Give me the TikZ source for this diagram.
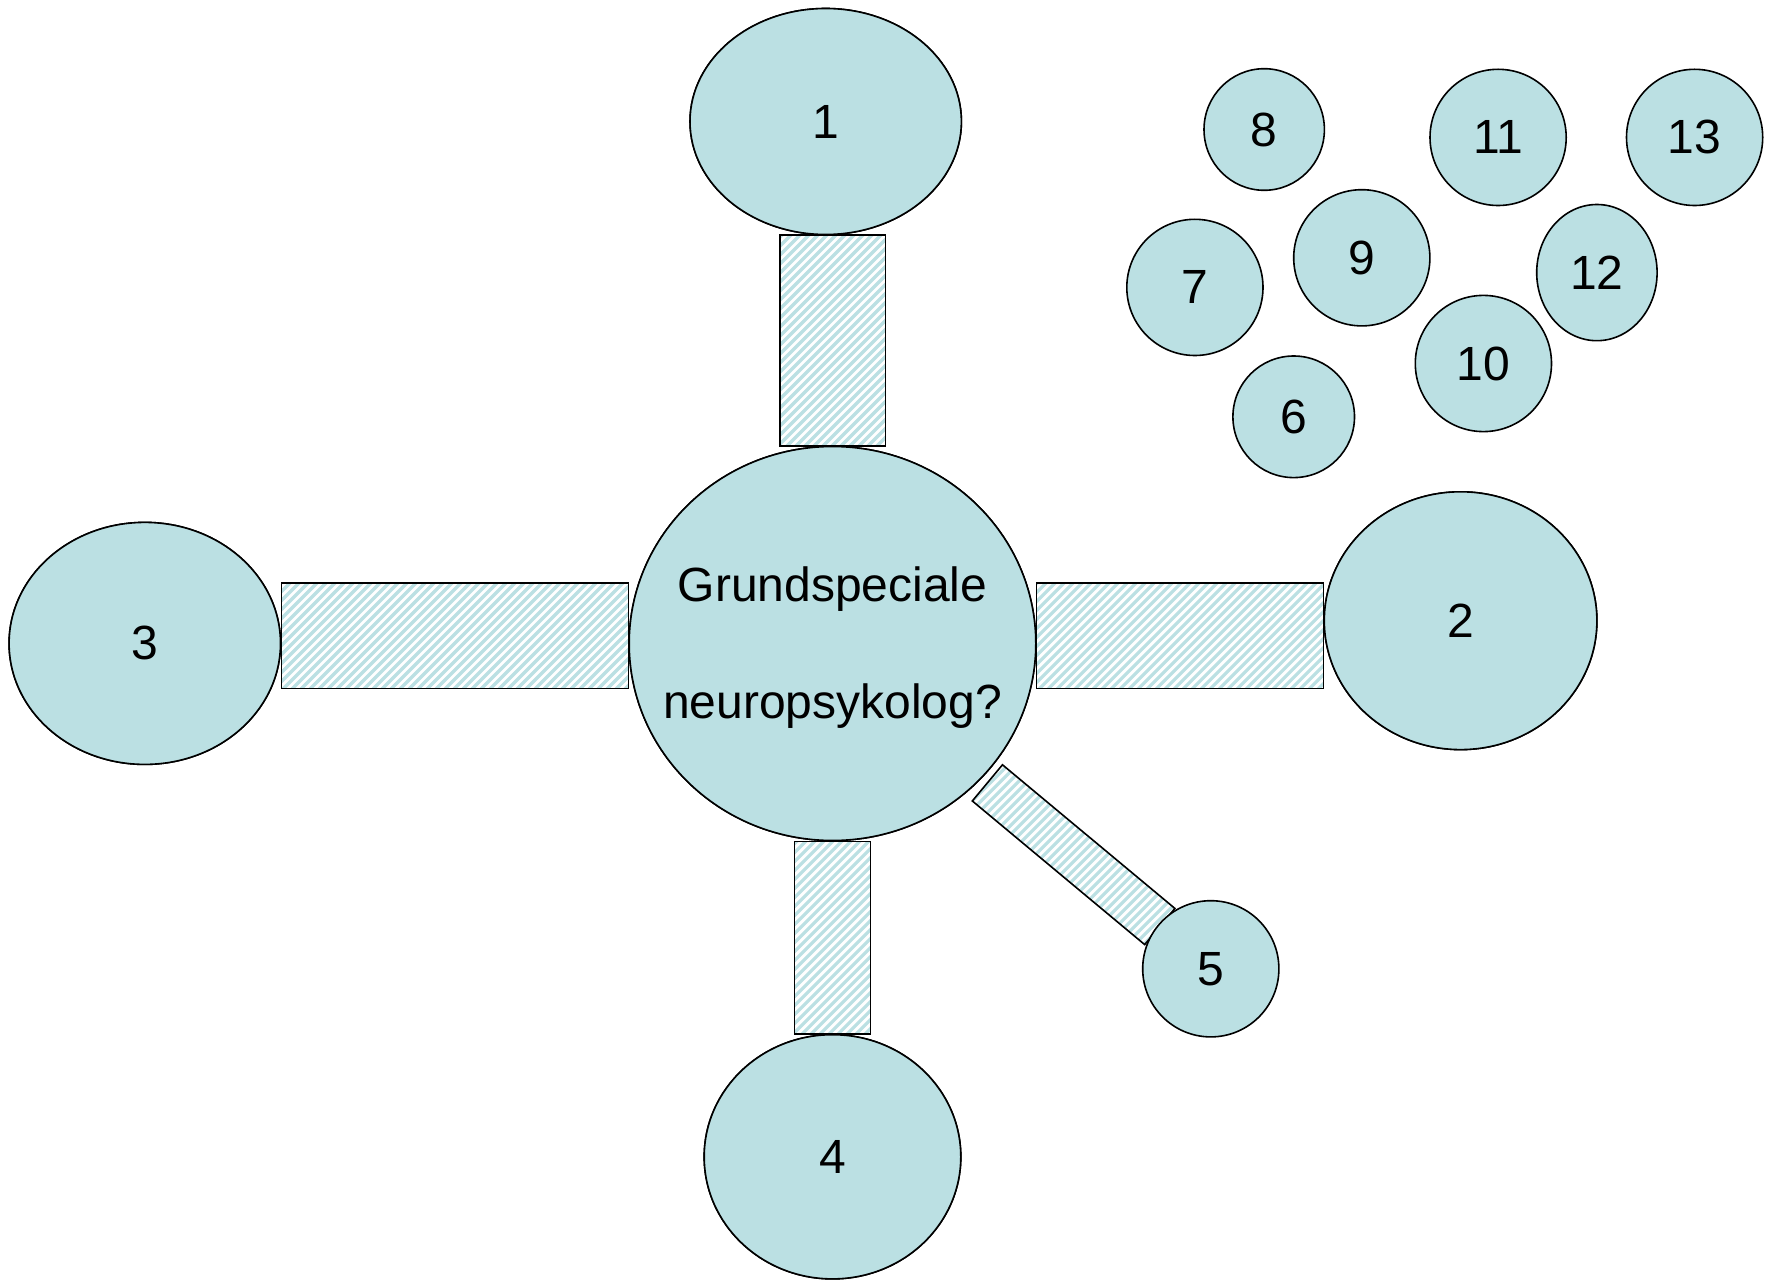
\documentclass[tikz,border=0pt]{standalone}
\usepackage{fontspec}
\setmainfont{Liberation Sans}
\usetikzlibrary{shapes.geometric,calc}
\definecolor{lb}{RGB}{187,224,227}
\newcommand\hatchfill[1]{%
  \begin{scope}
    \clip #1;
    \foreach \k in {0,9,...,3060} \draw[lb,line width=3.2pt] (\k,0) -- ++(-1281,1281);
  \end{scope}
  \draw[black,line width=1.6pt] #1;}
\begin{document}
\begin{tikzpicture}[x=1pt,y=-1pt,
  bubble/.style={ellipse,draw=black,line width=1.6pt,fill=lb,inner sep=0pt,
    font=\fontsize{48}{58}\selectfont},
  ctext/.style={align=center,inner sep=0pt,font=\fontsize{48}{117}\selectfont}]
\useasboundingbox[fill=white] (0,0) rectangle (1781,1281);
% bubbles placed first so the bars can refer to them
\path
  node[bubble,minimum width=271.4,minimum height=226] (n1) at (825.7,121.5) {}
  node[bubble,minimum width=406.6,minimum height=394] (c) at (832.5,643.5) {}
  node[bubble,minimum width=272.6,minimum height=257.8] (n2) at (1460.6,620.7) {}
  node[bubble,minimum width=271.4,minimum height=242] (n3) at (144.8,643.4) {}
  node[bubble,minimum width=256.6,minimum height=244.2] (n4) at (832.5,1156.8) {};
\coordinate (ytop) at (0,582.7);
\coordinate (ybot) at (0,688.3);
\node[rotate=-39.8,minimum width=224,minimum height=46.7,inner sep=0pt] (b5) at (1073.6,854.7) {};
% bars
\hatchfill{($(c.north)+(-52.8,0)$) rectangle ($(c.north |- n1.south)+(52.8,0)$)}
\hatchfill{(c.east |- ytop) rectangle (n2.west |- ybot)}
\hatchfill{(n3.east |- ytop) rectangle (c.west |- ybot)}
\hatchfill{($(c.south)+(-38,0)$) rectangle ($(c.south |- n4.north)+(38,0)$)}
\hatchfill{(b5.north west) -- (b5.north east) -- (b5.south east) -- (b5.south west) -- cycle}
% bubbles on top of the bars
\path
  node[bubble,minimum width=271.4,minimum height=226] at (n1) {1}
  node[bubble,minimum width=406.6,minimum height=394] at (c) {}
  node[bubble,minimum width=272.6,minimum height=257.8] at (n2) {2}
  node[bubble,minimum width=271.4,minimum height=242] at (n3) {3}
  node[bubble,minimum width=256.6,minimum height=244.2] at (n4) {4};
\node[ctext] (ct) at ($(c.center)+(0,4)$) {Grundspeciale\\neuropsykolog?};
\node[bubble,minimum width=136.2,minimum height=136.2] (n5) at (1210.8,968.8) {5};
\node[bubble,minimum width=121.6,minimum height=121.6] (n6) at (1293.7,416.8) {6};
\node[bubble,minimum width=136.2,minimum height=136.2] (n7) at (1194.9,287.4) {7};
\node[bubble,minimum width=120.4,minimum height=121.6] (n8) at (1264.2,129.5) {8};
\node[bubble,minimum width=136.2,minimum height=136.2] (n9) at (1361.8,257.8) {9};
\node[bubble,minimum width=136.2,minimum height=136.2] (n10) at (1483.4,363.5) {10};
\node[bubble,minimum width=136.2,minimum height=136.2] (n11) at (1498.1,137.4) {11};
\node[bubble,minimum width=120.4,minimum height=136.2] (n12) at (1596.9,272.6) {12};
\node[bubble,minimum width=136.2,minimum height=136.2] (n13) at (1694.6,137.4) {13};
\end{tikzpicture}
\end{document}
